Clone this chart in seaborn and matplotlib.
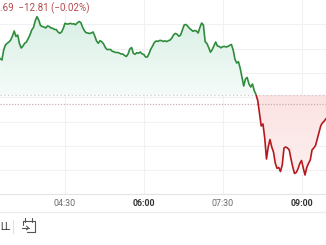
import numpy as np
import pandas as pd
import matplotlib
matplotlib.use("Agg")
import matplotlib.pyplot as plt
import matplotlib.dates as mdates
from matplotlib.colors import LinearSegmentedColormap
from matplotlib.path import Path
from matplotlib.patches import Rectangle
from matplotlib.lines import Line2D
import seaborn as sns

# ---------------- data ----------------
price = [
    141.5, 140.0, 150.0, 155.0, 156.7, 158.0, 160.0, 164.0, 169.0, 163.5,
    165.0, 156.5, 152.0, 154.0, 156.7, 158.0, 161.5, 165.0, 170.0, 172.5,
    179.0, 183.3, 180.0, 174.5, 173.5, 173.0, 172.0, 174.0, 173.5, 172.0,
    171.7, 170.5, 170.5, 168.0, 166.7, 168.0, 171.5, 176.7, 176.0, 176.0,
    176.7, 176.0, 176.2, 175.3, 177.0, 178.5, 177.5, 173.0, 169.5, 167.3,
    167.0, 166.5, 167.0, 168.0, 164.0, 159.0, 156.7, 159.3, 158.2, 156.2,
    152.5, 150.5, 150.5, 150.5, 148.7, 148.2, 147.5, 147.5, 147.0, 146.0,
    146.0, 144.5, 143.5, 146.0, 151.0, 152.5, 146.7, 145.7, 147.3, 146.8,
    148.0, 146.1, 145.5, 143.0, 143.0, 146.5, 151.0, 154.0, 157.5, 159.0,
    158.6, 159.5, 159.5, 158.5, 159.2, 158.4, 159.3, 160.0, 162.0, 165.2,
    166.6, 165.7, 163.8, 165.0, 170.0, 175.0, 175.5, 174.0, 171.7, 170.3,
    168.7, 169.5, 169.0, 167.0, 172.5, 177.0, 175.0, 158.3, 156.5, 152.6,
    147.8, 150.3, 154.2, 158.0, 154.0, 153.6, 152.2, 153.3, 153.6, 153.0,
    153.6, 154.7, 155.5, 150.0, 140.8, 137.0, 138.3, 131.7, 123.0, 114.0,
    121.0, 122.5, 116.0, 113.0, 116.0, 109.5, 105.5, 99.5, 86.7, 74.0,
    76.0, 62.0, 41.0, 53.0, 60.5, 53.0, 48.0, 37.0, 31.7, 32.5,
    28.5, 35.0, 52.0, 53.0, 52.0, 50.0, 41.0, 33.0, 26.5, 27.5,
    31.2, 36.5, 39.5, 32.0, 25.0, 32.5, 36.7, 40.0, 50.0, 52.0,
    54.5, 61.0, 67.5, 74.3, 77.2, 79.0, 81.4,
]
prev_close = 105.0
ref_level = 96.0
start_time = "03:16"
step = "2min"
tick_labels = ["04:30", "06:00", "07:30", "09:00"]
tick_bold = [False, True, False, True]
header_text = ".69  \u221212.81 (\u22120.02%)"
range_label = "LL"

# ---------------- style ----------------
sns.set_theme(style="white")
plt.rcParams['font.family'] = ['Roboto', 'DejaVu Sans']

W, H = 326, 245
green = '#2f8c3c'
red = '#b5191d'

fig = plt.figure(figsize=(W / 100, H / 100), dpi=100)
fig.patch.set_facecolor('white')
axis_px = 194.4
ax = fig.add_axes([0, 1 - axis_px / H, 1, axis_px / H])
ax.set_facecolor('white')

day = "2024-01-01"
times = pd.date_range(f"{day} {start_time}", periods=len(price), freq=step)
df = pd.DataFrame({"time": times, "price": price})

xmin = pd.Timestamp(f"{day} 03:15:48")
xmax = pd.Timestamp(f"{day} 09:27:57")
ymin, ymax = 5.6, 200.0

# lines
sns.lineplot(data=df, x="time", y="price", ax=ax, color=green, lw=1.2, zorder=5)
sns.lineplot(data=df, x="time", y="price", ax=ax, color=red, lw=1.2, zorder=5)
g_line, r_line = ax.get_lines()[0], ax.get_lines()[1]
x0n, x1n = mdates.date2num(xmin), mdates.date2num(xmax)
rect_up = Rectangle((x0n, prev_close), x1n - x0n, ymax - prev_close + 10, transform=ax.transData)
rect_dn = Rectangle((x0n, ymin - 10), x1n - x0n, prev_close - ymin + 10, transform=ax.transData)
g_line.set_clip_path(rect_up)
r_line.set_clip_path(rect_dn)
for ln in (g_line, r_line):
    ln.set_solid_joinstyle('round')

# gradient fills
v = np.asarray(price)
up = ax.fill_between(df["time"], v, prev_close, where=v >= prev_close, interpolate=True,
                     facecolor='none', edgecolor='none')
dn = ax.fill_between(df["time"], v, prev_close, where=v <= prev_close, interpolate=True,
                     facecolor='none', edgecolor='none')


def gradient(coll, c_top, c_bot, y0, y1):
    cmap = LinearSegmentedColormap.from_list('grad', [c_bot, c_top])
    arr = np.linspace(0, 1, 256).reshape(-1, 1)
    im = ax.imshow(arr, cmap=cmap, aspect='auto', origin='lower',
                   extent=[x0n, x1n, y0, y1], zorder=1, interpolation='bilinear')
    path = Path.make_compound_path(*coll.get_paths())
    im.set_clip_path(path, transform=ax.transData)


gradient(up, '#d8efe5', '#f5fbf8', prev_close, 185)
gradient(dn, '#fce2e2', '#fdf0f0', 20, prev_close)

# reference lines
ax.axhline(prev_close, color='#cccccc', lw=0.9, ls=(0, (1, 2)), zorder=3)
ax.axhline(ref_level, color='#c9b0b0', lw=0.9, ls=(0, (1, 1.3)), zorder=3)

# grid
ax.set_xlim(xmin, xmax)
ax.set_ylim(ymin, ymax)
ax.set_yticks(np.arange(ymax - 24.3, ymin, -24.3))
ax.set_yticklabels([])
tick_pos = [pd.Timestamp(f"{day} {t}") for t in tick_labels]
ax.set_xticks(tick_pos)
ax.set_xticklabels(tick_labels)
ax.grid(True, color='#f1f1f1', lw=0.8, zorder=0)
ax.tick_params(axis='x', length=0, pad=3, labelsize=6.4, colors='#6a6a6a')
ax.tick_params(axis='y', length=0)
for lbl, b in zip(ax.get_xticklabels(), tick_bold):
    if b:
        lbl.set_fontweight('bold')
        lbl.set_color('#333333')
for s in ['top', 'left', 'right']:
    ax.spines[s].set_visible(False)
ax.spines['bottom'].set_color('#e4e4e4')
ax.spines['bottom'].set_linewidth(0.8)
ax.set_xlabel('')
ax.set_ylabel('')

# header text
fig.text(0 / W, 1 - 8.3 / H, header_text, ha='left', va='center', fontsize=7,
         color='#b5494b')


def P(x, y):
    return (x / W, 1 - y / H)


# toolbar separator
fig.add_artist(Line2D([0, 1], [1 - 212 / H] * 2, color='#ececec', lw=0.8))
fig.text(0.3 / W, 1 - 226.5 / H, range_label, ha='left', va='center', fontsize=7,
         color='#333333')
a, b = P(13.5, 220), P(13.5, 233)
fig.add_artist(Line2D([a[0], b[0]], [a[1], b[1]], color='#e0e0e0', lw=0.8))

# calendar icon
icon = [
    [(25, 218), (25, 221.5)],
    [(32, 218), (32, 221.5)],
    [(23, 220.5), (34.5, 220.5)],
    [(34.5, 220.5), (34.5, 231.5)],
    [(27, 231.5), (34.5, 231.5)],
    [(23, 220.5), (23, 225)],
    [(22, 228), (28.5, 228)],
    [(26.5, 226.2), (28.5, 228), (26.5, 229.8)],
]
for seg in icon:
    pts = [P(*p) for p in seg]
    fig.add_artist(Line2D([p[0] for p in pts], [p[1] for p in pts], color='#555555',
                          lw=0.8, solid_capstyle='round'))

fig.savefig("out.png", dpi=100, facecolor='white')
